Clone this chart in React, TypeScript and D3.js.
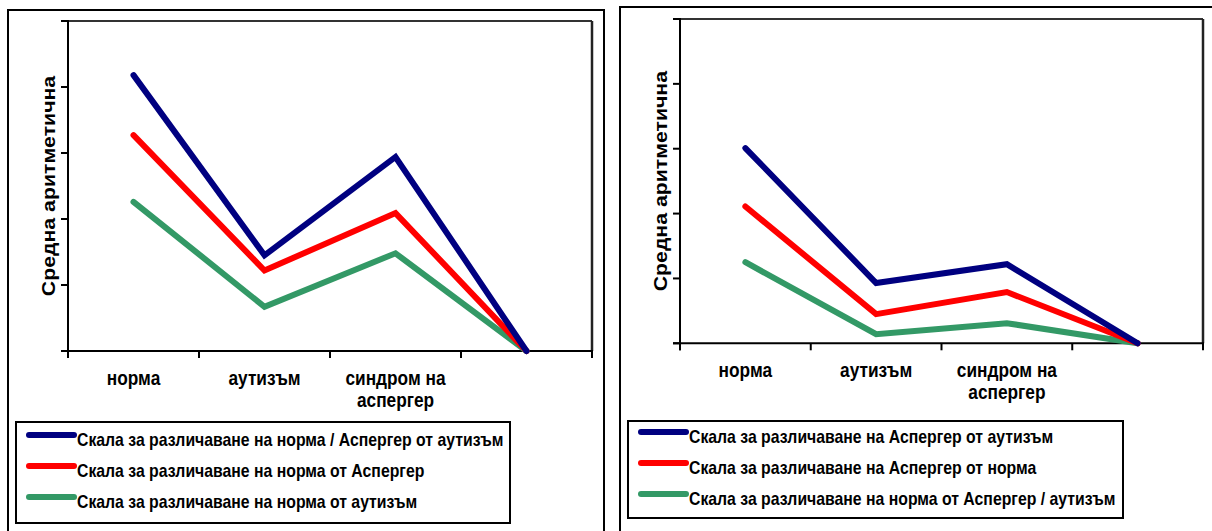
import React from "react";
import * as d3 from "d3";

const categories = ["норма", "аутизъм", "синдром на аспергер", ""];
const categoryLines: string[][] = [["норма"], ["аутизъм"], ["синдром на", "аспергер"], []];
const yTicks = [0, 1, 2, 3, 4, 5];

const leftSeriesNames = [
  "Скала за различаване на норма / Аспергер от аутизъм",
  "Скала за различаване на норма от Аспергер",
  "Скала за различаване на норма от аутизъм",
];
const leftBlue = [4.18, 1.45, 2.94, 0];
const leftRed = [3.27, 1.22, 2.09, 0];
const leftGreen = [2.26, 0.67, 1.48, 0];

const rightSeriesNames = [
  "Скала за различаване на Аспергер от аутизъм",
  "Скала за различаване на Аспергер от норма",
  "Скала за различаване на норма от Аспергер / аутизъм",
];
const rightBlue = [3.01, 0.93, 1.22, 0];
const rightRed = [2.11, 0.45, 0.79, 0];
const rightGreen = [1.25, 0.14, 0.31, 0];

const seriesColors = ["#000080", "#ff0000", "#339966"];
const yTitle = "Средна аритметична";

const FONT = "'Liberation Sans', Arial, sans-serif";

type PanelProps = {
  outer: { x: number; y: number; w: number; h: number };
  plot: { x0: number; x1: number; y0: number; y1: number };
  yTitleX: number;
  labelY: number;
  legend: { x: number; y: number; w: number; h: number; firstY: number; gap: number };
  names: string[];
  values: number[][];
};

function Panel({ outer, plot, yTitleX, labelY, legend, names, values }: PanelProps) {
  const x = d3.scaleBand<string>().domain(categories).range([plot.x0, plot.x1]).padding(0);
  const y = d3.scaleLinear().domain([0, 5]).range([plot.y1, plot.y0]);
  const line = d3
    .line<number>()
    .x((_, i) => (x(categories[i]) as number) + x.bandwidth() / 2)
    .y((d) => y(d));
  const bandEdges = categories.map((c) => x(c) as number).concat([plot.x1]);
  const order = [2, 1, 0];
  return (
    <g>
      <rect x={outer.x} y={outer.y} width={outer.w} height={outer.h} fill="#fff" stroke="#000" strokeWidth={2} />
      <line x1={plot.x0} y1={plot.y0} x2={plot.x1} y2={plot.y0} stroke="#333" strokeWidth={2} />
      <line x1={plot.x1} y1={plot.y0} x2={plot.x1} y2={plot.y1} stroke="#222" strokeWidth={2.5} />
      <line x1={plot.x0} y1={plot.y0 - 1} x2={plot.x0} y2={plot.y1 + 7} stroke="#000" strokeWidth={2} />
      {yTicks.map((t) => (
        <line key={t} x1={plot.x0 - 7} x2={plot.x0} y1={y(t)} y2={y(t)} stroke="#000" strokeWidth={2} />
      ))}
      <line x1={plot.x0 - 7} y1={plot.y1} x2={plot.x1 + 1} y2={plot.y1} stroke="#000" strokeWidth={2} />
      {bandEdges.map((e, i) => (
        <line key={i} x1={e} x2={e} y1={plot.y1} y2={plot.y1 + 7} stroke="#000" strokeWidth={2} />
      ))}
      {categoryLines.map((ls, i) =>
        ls.map((l, j) => (
          <text
            key={i + "-" + j}
            transform={`translate(${(x(categories[i]) as number) + x.bandwidth() / 2},${labelY + j * 22}) scale(1,1.15)`}
            textAnchor="middle"
            fontFamily={FONT}
            fontWeight="bold"
            fontSize={17.3}
          >
            {l}
          </text>
        ))
      )}
      <text
        transform={`translate(${yTitleX},${(plot.y0 + plot.y1) / 2}) rotate(-90) scale(1.15,1)`}
        textAnchor="middle"
        fontFamily={FONT}
        fontWeight="bold"
        fontSize={18.5}
      >
        {yTitle}
      </text>
      {order.map((s) => (
        <path
          key={s}
          d={line(values[s]) || ""}
          fill="none"
          stroke={seriesColors[s]}
          strokeWidth={6}
          strokeLinejoin="miter"
          strokeLinecap="round"
        />
      ))}
      <rect x={legend.x} y={legend.y} width={legend.w} height={legend.h} fill="#fff" stroke="#000" strokeWidth={2} />
      {names.map((n, i) => (
        <g key={n}>
          <line
            x1={legend.x + 13}
            x2={legend.x + 58}
            y1={legend.firstY + i * legend.gap}
            y2={legend.firstY + i * legend.gap}
            stroke={seriesColors[i]}
            strokeWidth={6}
            strokeLinecap="round"
          />
          <text
            transform={`translate(${legend.x + 61},${legend.firstY + i * legend.gap + 11}) scale(1,1.15)`}
            fontFamily={FONT}
            fontWeight="bold"
            fontSize={15.8}
          >
            {n}
          </text>
        </g>
      ))}
    </g>
  );
}

export default function App() {
  return (
    <svg width={1212} height={531} style={{ position: "absolute", left: 0, top: 0 }}>
      <rect width={1212} height={531} fill="#fff" />
      <Panel
        outer={{ x: 8, y: 10, w: 596, h: 540 }}
        plot={{ x0: 68, x1: 592, y0: 21, y1: 351 }}
        yTitleX={55}
        labelY={385}
        legend={{ x: 16, y: 422, w: 494, h: 101, firstY: 435, gap: 31 }}
        names={leftSeriesNames}
        values={[leftBlue, leftRed, leftGreen]}
      />
      <Panel
        outer={{ x: 620, y: 7, w: 620, h: 540 }}
        plot={{ x0: 680, x1: 1203, y0: 19, y1: 343.3 }}
        yTitleX={667}
        labelY={377}
        legend={{ x: 628, y: 421, w: 495, h: 97, firstY: 432, gap: 31 }}
        names={rightSeriesNames}
        values={[rightBlue, rightRed, rightGreen]}
      />
    </svg>
  );
}
